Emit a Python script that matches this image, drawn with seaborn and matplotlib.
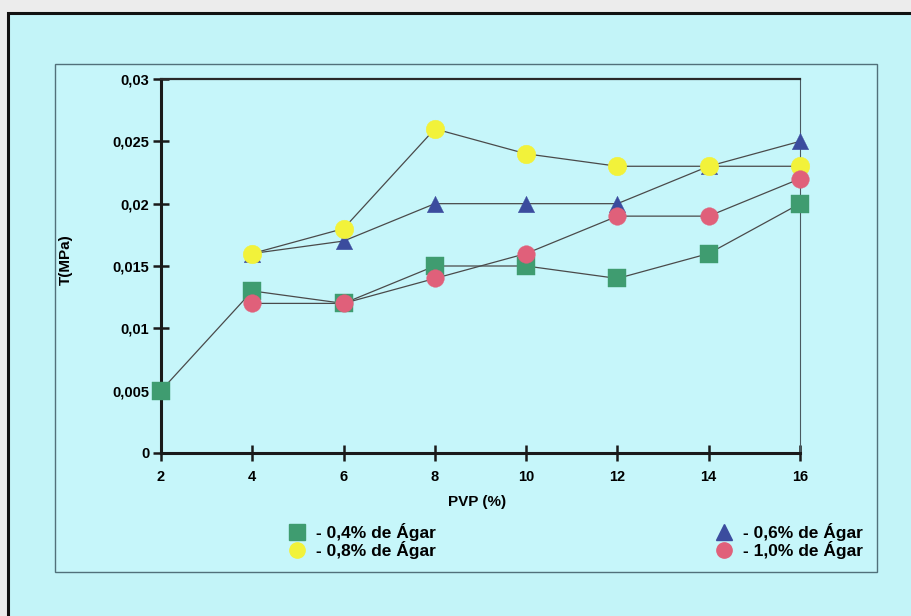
import matplotlib
matplotlib.use("Agg")
import matplotlib.pyplot as plt
import seaborn as sns
import pandas as pd
from matplotlib.patches import Rectangle
from matplotlib.lines import Line2D
from matplotlib.ticker import FuncFormatter

# ---- data ----
pvp_a = [2, 4, 6, 8, 10, 12, 14, 16]
agar_04 = [0.005, 0.013, 0.012, 0.015, 0.015, 0.014, 0.016, 0.020]
pvp_b = [4, 6, 8, 10, 12, 14, 16]
agar_06 = [0.016, 0.017, 0.020, 0.020, 0.020, 0.023, 0.025]
agar_08 = [0.016, 0.018, 0.026, 0.024, 0.023, 0.023, 0.023]
agar_10 = [0.012, 0.012, 0.014, 0.016, 0.019, 0.019, 0.022]
series_names = ["- 0,4% de Ágar", "- 0,6% de Ágar", "- 0,8% de Ágar", "- 1,0% de Ágar"]
x_ticks = [2, 4, 6, 8, 10, 12, 14, 16]
y_ticks = [0, 0.005, 0.01, 0.015, 0.02, 0.025, 0.03]

rows = []
for name, xs, ys in zip(series_names, [pvp_a, pvp_b, pvp_b, pvp_b],
                        [agar_04, agar_06, agar_08, agar_10]):
    for xv, yv in zip(xs, ys):
        rows.append({"PVP": xv, "T": yv, "serie": name})
df = pd.DataFrame(rows)

colors = {series_names[0]: "#3f9c70", series_names[1]: "#3b4c9e",
          series_names[2]: "#f2f23a", series_names[3]: "#e0607a"}
markers = {series_names[0]: "s", series_names[1]: "^",
           series_names[2]: "o", series_names[3]: "o"}
sizes = {series_names[0]: 160, series_names[1]: 140,
         series_names[2]: 180, series_names[3]: 160}

sns.set_theme(style="white")
plt.rcParams["font.family"] = ["Liberation Sans", "DejaVu Sans"]
plt.rcParams["text.color"] = "#000000"
plt.rcParams["axes.labelcolor"] = "#000000"
plt.rcParams["xtick.color"] = "#000000"
plt.rcParams["ytick.color"] = "#000000"

fig = plt.figure(figsize=(9.11, 6.16), dpi=100)
fig.set_facecolor("#ececec")

# outer frame and inner panel
fig.patches.append(Rectangle((8 / 911, -0.05), 1.0, 1 - 13 / 616 + 0.05,
                             transform=fig.transFigure, facecolor="#c3f4f8",
                             edgecolor="#111111", lw=2.2, zorder=-2))
fig.patches.append(Rectangle((55 / 911, 1 - 572 / 616), 822 / 911, 508 / 616,
                             transform=fig.transFigure, facecolor="#c6f6fa",
                             edgecolor="#51707a", lw=1.0, zorder=-1))

ax = fig.add_axes([161 / 911, 1 - 453 / 616, (800 - 161) / 911, (453 - 79) / 616])
ax.set_zorder(2)
ax.set_facecolor("none")

order = [series_names[0], series_names[1], series_names[2], series_names[3]]
for name in order:
    sub = df[df["serie"] == name]
    sns.lineplot(data=sub, x="PVP", y="T", ax=ax, color="#4a4a4a", lw=0.9,
                 zorder=2, legend=False)
for i, name in enumerate(order):
    sub = df[df["serie"] == name]
    sns.scatterplot(data=sub, x="PVP", y="T", ax=ax, color=colors[name],
                    marker=markers[name], s=sizes[name], linewidth=0.3,
                    edgecolor=colors[name], zorder=3 + i, legend=False,
                    clip_on=False)

ax.set_xlim(2, 16)
ax.set_ylim(0, 0.03)
ax.set_xticks(x_ticks)
ax.set_yticks(y_ticks)
ax.yaxis.set_major_formatter(FuncFormatter(lambda v, p: ("%g" % v).replace(".", ",")))
for lab in ax.get_xticklabels() + ax.get_yticklabels():
    lab.set_fontweight("bold")
    lab.set_fontsize(10.5)
    lab.set_color("#000000")
ax.tick_params(axis="both", direction="inout", length=11, width=1.8,
               color="#1a1a1a", labelcolor="#000000", pad=4, bottom=True, left=True)
ax.tick_params(axis="x", pad=7)
ax.tick_params(axis="y", pad=3)
for side in ["left", "bottom"]:
    ax.spines[side].set_linewidth(2.2)
    ax.spines[side].set_color("#1a1a1a")
ax.spines["top"].set_linewidth(1.6)
ax.spines["top"].set_color("#2a2a2a")
ax.spines["right"].set_linewidth(0.8)
ax.spines["right"].set_color("#4a5a60")

ax.set_xlabel("PVP (%)", fontsize=11, fontweight="bold", va="center", color="#000000")
ax.set_ylabel("T(MPa)", fontsize=11, fontweight="bold", va="center", color="#000000")
ax.xaxis.set_label_coords((477 - 161) / 639, (453 - 502) / 374)
ax.yaxis.set_label_coords((66 - 161) / 639, (453 - 260) / 374)

handles = []
leg_order = [series_names[0], series_names[2], series_names[1], series_names[3]]
for name in leg_order:
    handles.append(Line2D([], [], ls="none", marker=markers[name],
                          markersize=11, markerfacecolor=colors[name],
                          markeredgecolor=colors[name]))
leg = fig.legend(handles, leg_order, ncol=2, loc="center", bbox_to_anchor=(0.631, 1 - 541 / 616),
                 frameon=False, prop={"size": 12.5, "weight": "bold"}, columnspacing=16,
                 handletextpad=0.5, labelspacing=0.0, handlelength=1.2)
for t in leg.get_texts():
    t.set_color("#000000")

fig.savefig("out.png", dpi=100, facecolor=fig.get_facecolor())
